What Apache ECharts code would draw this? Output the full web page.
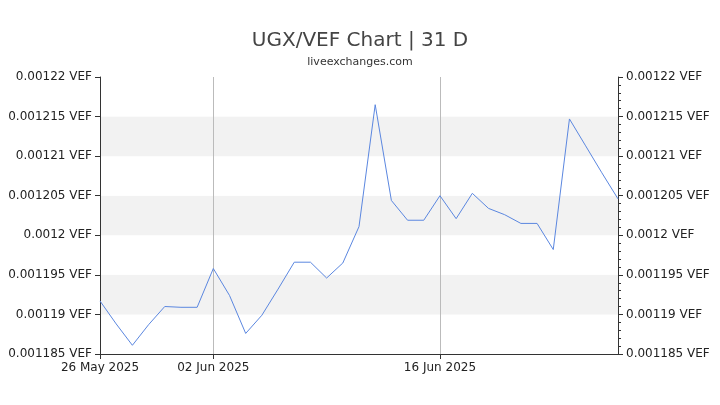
<!DOCTYPE html>
<html><head><meta charset="utf-8">
<script src="https://cdn.jsdelivr.net/npm/echarts@6/dist/echarts.min.js"></script>
<style>html,body{margin:0;padding:0;background:#fff}#c{width:720px;height:405px}</style>
</head><body><div id="c"></div>
<script>
const dates = ["26.May 2025","27.May","28.May","29.May","30.May","31.May","01.Jun","02.Jun 2025","03.Jun","04.Jun","05.Jun","06.Jun","07.Jun","08.Jun","09.Jun","10.Jun","11.Jun","12.Jun","13.Jun","14.Jun","15.Jun","16.Jun 2025","17.Jun","18.Jun","19.Jun","20.Jun","21.Jun","22.Jun","23.Jun","24.Jun","25.Jun","26.Jun","27.Jun"];
const rates = [0.0011917,0.0011888,0.0011861,0.0011887,0.0011910,0.0011909,0.0011909,0.0011958,0.0011924,0.0011876,0.0011899,0.0011932,0.0011966,0.0011966,0.0011946,0.0011965,0.0012011,0.0012165,0.0012044,0.0012019,0.0012019,0.0012050,0.0012021,0.0012053,0.0012034,0.0012026,0.0012015,0.0012015,0.0011982,0.0012147,0.0012113,0.0012079,0.0012046];
const labeled = [0,7,21];
const fmt = v => (+v.toFixed(7)) + ' VEF';
const yBase = {type:'value',min:0.001185,max:0.00122,interval:0.000005,
  axisLabel:{formatter:fmt,color:'#222',fontSize:12,fontFamily:'DejaVu Sans'},
  axisLine:{show:true,lineStyle:{color:'#333'}},axisTick:{show:true,lineStyle:{color:'#333'}}};
const chart = echarts.init(document.getElementById('c'));
chart.setOption({
  animation:false,
  title:{text:'UGX/VEF Chart | 31 D',subtext:'liveexchanges.com',left:'center',top:26,
    textStyle:{fontSize:20,fontWeight:'normal',color:'#444',fontFamily:'DejaVu Sans'},
    subtextStyle:{fontSize:11,color:'#333',fontFamily:'DejaVu Sans'},itemGap:6},
  grid:{left:100,right:102,top:77,bottom:51},
  xAxis:{type:'category',data:dates,boundaryGap:false,
    axisLine:{lineStyle:{color:'#333'}},
    axisTick:{interval:(i)=>labeled.includes(i),lineStyle:{color:'#333'}},
    axisLabel:{interval:(i)=>labeled.includes(i),color:'#222',fontSize:12,fontFamily:'DejaVu Sans',
      formatter:(v)=>v.replace('.',' ')},
    splitLine:{show:true,interval:(i)=>i===7||i===21,lineStyle:{color:'#bbb'}}},
  yAxis:[
    Object.assign({},yBase,{position:'left',splitLine:{show:false},
      splitArea:{show:true,areaStyle:{color:['#fff','#f2f2f2']}}}),
    Object.assign({},yBase,{position:'right',splitLine:{show:false},
      minorTick:{show:true,splitNumber:5,length:3,lineStyle:{color:'#333'}}})
  ],
  series:[{type:'line',data:rates,showSymbol:false,lineStyle:{color:'#5b87e0',width:1}}]
});
</script></body></html>
